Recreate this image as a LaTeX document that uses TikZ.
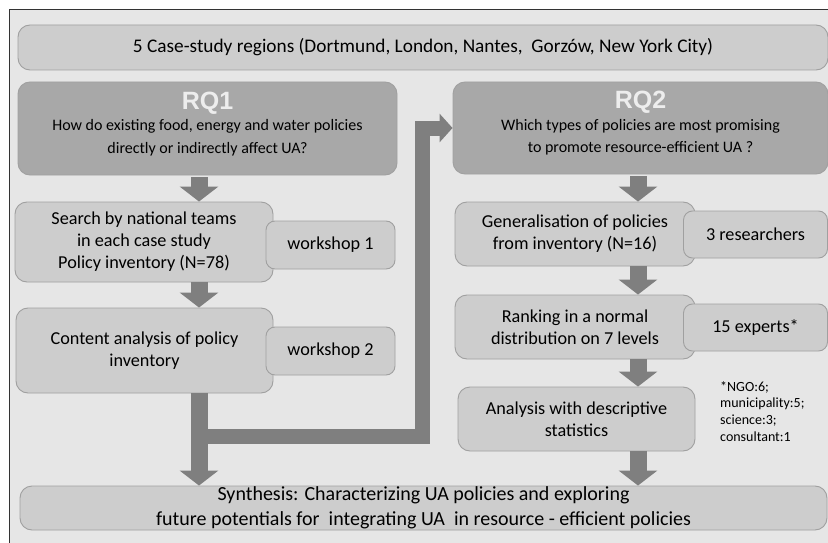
\documentclass[tikz,border=0pt]{standalone}
\usepackage{fontspec}
\setmainfont{Carlito}
\newfontfamily\rqfont{Liberation Sans}
\usetikzlibrary{arrows.meta}
\definecolor{framebg}{HTML}{E6E6E6}
\definecolor{boxfill}{HTML}{CDCDCD}
\definecolor{boxline}{HTML}{A0A0A0}
\definecolor{rqfill}{HTML}{A8A8A8}
\definecolor{arrowgray}{HTML}{7F7F7F}
\definecolor{rqtext}{HTML}{EDEDED}
\newcommand{\rqhead}[1]{{\rqfont\bfseries\fontsize{25}{25}\selectfont\color{rqtext}#1}}
\begin{document}
\begin{tikzpicture}[x=1pt,y=-1pt,
            box/.style={draw=boxline,fill=boxfill,rounded corners=12pt,line width=0.9pt,
              align=center,inner sep=0pt,font=\fontsize{18.2}{22}\selectfont},
            rqbox/.style={box,fill=rqfill,font=\fontsize{16}{22.5}\selectfont,text depth=12pt},
            sidebox/.style={box,rounded corners=9pt},
            bigarrow/.style={draw=arrowgray,line width=17pt,-{Triangle[width=38pt,length=15pt]}},
            bentarrow/.style={draw=arrowgray,line width=15pt,line join=miter,-{Triangle[width=28pt,length=13pt]}}
            ]
            \useasboundingbox (0,0) rectangle (828,543);
            \fill[framebg] (9,10) rectangle (828,543);
            \draw[line width=1pt,black!80] (9,543) -- (9,10) -- (828,10);
            % top and bottom
            \node[box,minimum width=810pt,minimum height=45pt,font=\fontsize{19.3}{23}\selectfont] (regions) at (423,47.5)
              {5 Case-study regions (Dortmund, London, Nantes,\ \ Gorzów, New York City)};
            \node[box,minimum width=807pt,minimum height=44pt,font=\fontsize{20}{25}\selectfont] (synth) at (423.5,508)
              {Synthesis: Characterizing UA policies and exploring\\future potentials for\ \ integrating UA\ \ in resource - efficient policies};
            % RQ1 column
            \node[rqbox,minimum width=379pt,minimum height=93pt] (rq1) at (207.5,128.5)
              {\rqhead{RQ1}\\[-1pt]How do existing food, energy and water policies\\directly or indirectly affect UA?};
            \node[box,minimum width=258pt,minimum height=80pt] (search) at (144,242)
              {Search by national teams\\in each case study\\Policy inventory (N=78)};
            \node[sidebox,minimum width=129pt,minimum height=48pt] (ws1) at (330.5,245) {workshop 1};
            \node[box,minimum width=257pt,minimum height=85pt] (content) at (144.5,350.5)
              {Content analysis of policy\\inventory};
            \node[sidebox,minimum width=129pt,minimum height=48pt] (ws2) at (330.5,351) {workshop 2};
            % RQ2 column
            \node[rqbox,minimum width=375pt,minimum height=92pt] (rq2) at (640.5,128)
              {\rqhead{RQ2}\\[-1pt]Which types of policies are most promising\\to promote resource-efficient UA ?};
            \node[box,minimum width=240pt,minimum height=64pt] (general) at (575,234)
              {Generalisation of policies\\from inventory (N=16)};
            \node[sidebox,minimum width=144pt,minimum height=47pt] (researchers) at (755.5,234.5) {3 researchers};
            \node[box,minimum width=240pt,minimum height=64pt] (ranking) at (575,327)
              {Ranking in a normal\\distribution on 7 levels};
            \node[sidebox,minimum width=144pt,minimum height=47pt] (experts) at (755.5,327.5) {15 experts*};
            \node[box,minimum width=237pt,minimum height=64pt] (analysis) at (576.5,419)
              {Analysis with descriptive\\statistics};
            \node[anchor=north west,align=left,inner sep=0pt,font=\fontsize{14}{16.8}\selectfont] (note) at (720,381)
              {*NGO:6;\\municipality:5;\\science:3;\\consultant:1};
            % arrows
            \coordinate (leftaxis) at (199,0);
            \coordinate (rightaxis) at (638,0);
            \draw[bigarrow] ([yshift=-2pt]rq1.south -| leftaxis) -- (search.north -| leftaxis);
            \draw[bigarrow] (search.south -| leftaxis) -- (content.north -| leftaxis);
            \draw[bigarrow] (content.south -| leftaxis) -- (synth.north -| leftaxis);
            \draw[bigarrow] ([yshift=-2pt]rq2.south -| rightaxis) -- (general.north -| rightaxis);
            \draw[bigarrow] (general.south -| rightaxis) -- (ranking.north -| rightaxis);
            \draw[bigarrow] (ranking.south -| rightaxis) -- (analysis.north -| rightaxis);
            \draw[bigarrow] (analysis.south -| rightaxis) -- (synth.north -| rightaxis);
            \coordinate (split) at (199,436.5);
            \coordinate (riser) at (422.5,436.5);
            \draw[bentarrow] (split) -- (riser) -- (riser |- rq2.west) -- (rq2.west);
        \end{tikzpicture}
\end{document}
